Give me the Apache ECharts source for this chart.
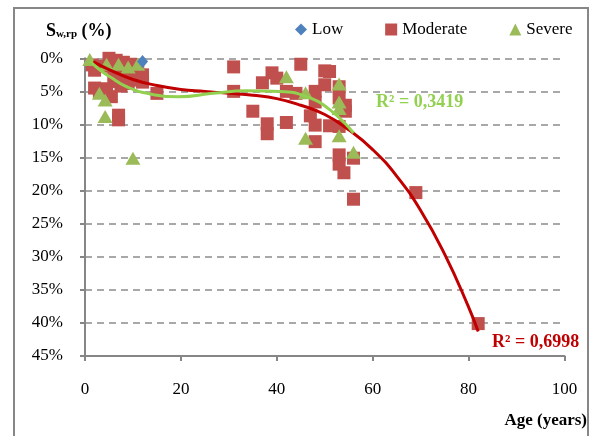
<!DOCTYPE html>
<html><head><meta charset="utf-8">
<script src="https://cdn.jsdelivr.net/npm/echarts@6/dist/echarts.min.js"></script>
<style>html,body{margin:0;padding:0;background:#fff}#c{width:603px;height:436px}</style>
</head><body><div id="c"></div>
<script>
// Data (age in years, S_w,rp in %)
const lowPts = [[12, 0.5]];
const moderatePts = [
  [5,0],[6.5,0.3],[8,0.6],[9.5,0.9],[11,1.5],[12,2.5],[12,3.6],[10,3.2],[8,2.4],[6,1.8],
  [3.5,1.2],[2,1.8],[1.5,1.0],[2,4.5],[3,5.0],[4.5,4.6],[5.5,5.8],[6,3.5],[7.5,4.2],
  [7,8.6],[7,9.3],[15,5.3],[9,3.8],[11.5,3.3],
  [31,1.3],[31,5.0],[35,8.0],[37,3.7],[38,9.9],[38,11.4],[39,2.2],[40,3.0],[42,9.7],
  [45,0.9],[42,5.0],[44,5.3],[50,1.9],[51,2.0],[50,4.0],[48,5.0],[48,6.6],[47,8.7],
  [48,10.1],[48,12.6],[51,10.2],[53,4.3],[53,6.0],[54.3,7.1],[54.3,8.0],[53,10.3],
  [53,14.6],[53,16.0],[54,17.3],[56,15.1],[56,21.3],[69,20.3],[82,40.1]
];
const severePts = [
  [1,0.2],[4.5,0.9],[7,0.9],[9,1.3],[11,0.9],[3,5.3],[4.2,6.3],[4.2,8.8],[10,15.1],
  [42,2.8],[46,5.2],[53,3.9],[53,6.6],[53,7.6],[53,11.7],[46,12.1],[56,14.2]
];
// Trendlines
const trendModerate = [[1.7,0.5],[5,1.7],[10,3.2],[15,4.1],[20,4.7],[25,5.0],[30,5.3],[35,5.6],
  [40,6.1],[45,7.1],[50,8.5],[55,10.8],[60,13.8],[65,17.8],[70,23.0],[75,29.6],[80,37.6],[82,41.3]];
const trendSevere = [[1,0.4],[3,1.7],[5.2,2.8],[8.7,4.3],[13.6,5.4],[19.5,5.8],[26.7,5.3],
  [33.7,4.9],[40.7,5.0],[46.2,5.8],[51.1,7.8],[56,11.3]];
const r2Moderate = 'R² = 0,6998';
const r2Severe = 'R² = 0,3419';

const F = '"Liberation Serif","Times New Roman",serif';
const chart = echarts.init(document.getElementById('c'), null, {renderer:'canvas'});
chart.setOption({
  animation:false,
  backgroundColor:'#fff',
  textStyle:{fontFamily:F},
  title:{
    text:'{s|S}{sub|w,rp}{s| (%)}',
    left:41, top:13,
    textStyle:{rich:{
      s:{fontFamily:F,fontSize:18,fontWeight:'bold',color:'#000',lineHeight:22,verticalAlign:'bottom'},
      sub:{fontFamily:F,fontSize:11,fontWeight:'bold',color:'#000',lineHeight:12,verticalAlign:'bottom'}
    }}
  },
  legend:{
    data:[{name:'Low',icon:'diamond'},{name:'Moderate',icon:'rect'},{name:'Severe',icon:'triangle'}],
    left:290, top:16, itemGap:42, itemWidth:12, itemHeight:12,
    textStyle:{fontFamily:F,fontSize:17,color:'#000'}
  },
  grid:{left:85,right:38.5,top:58.3,bottom:80,containLabel:false},
  xAxis:{
    type:'value',min:0,max:100,interval:20,position:'bottom',
    axisLine:{onZero:false,lineStyle:{color:'#868686',width:2}},
    axisTick:{show:true,length:5,lineStyle:{color:'#868686',width:2}},
    axisLabel:{color:'#000',fontFamily:F,fontSize:17,margin:25},
    splitLine:{show:false}
  },
  yAxis:{
    type:'value',min:0,max:45,interval:5,inverse:true,
    axisLine:{show:true,onZero:false,lineStyle:{color:'#868686',width:2}},
    axisTick:{show:true,length:5,lineStyle:{color:'#868686',width:2}},
    axisLabel:{color:'#000',fontFamily:F,fontSize:17,margin:22,formatter:'{value}%'},
    splitLine:{show:true,lineStyle:{color:'#8c8c8c',width:1.5,type:[7,5]}}
  },
  series:[
    {name:'Moderate',type:'scatter',symbol:'rect',symbolSize:13,data:moderatePts,
     itemStyle:{color:'#C0504D',opacity:1},z:2},
    {name:'Severe',type:'scatter',symbol:'triangle',symbolSize:[15,13],data:severePts,
     itemStyle:{color:'#9BBB59',opacity:1},z:3},
    {name:'Low',type:'scatter',symbol:'diamond',symbolSize:[11,13],data:lowPts,
     itemStyle:{color:'#4F81BD',opacity:1},z:3},
    {name:'trendModerate',type:'line',smooth:0.5,showSymbol:false,data:trendModerate,
     lineStyle:{color:'#C00000',width:3},z:5,silent:true},
    {name:'trendSevere',type:'line',smooth:0.5,showSymbol:false,data:trendSevere,
     lineStyle:{color:'#92D050',width:3},z:5,silent:true}
  ],
  graphic:[
    {type:'rect',shape:{x:14,y:8,width:574,height:440},style:{fill:'none',stroke:'#878787',lineWidth:2},z:-1},
    {type:'text',x:587,y:421,style:{text:'Age (years)',fill:'#000',font:'bold 17px '+F,textAlign:'right',textVerticalAlign:'middle'}},
    {type:'text',x:376,y:102,style:{text:r2Severe,fill:'#92D050',font:'bold 18px '+F,textAlign:'left',textVerticalAlign:'middle'}},
    {type:'text',x:492,y:342,style:{text:r2Moderate,fill:'#C00000',font:'bold 18px '+F,textAlign:'left',textVerticalAlign:'middle'}}
  ]
});
</script></body></html>
